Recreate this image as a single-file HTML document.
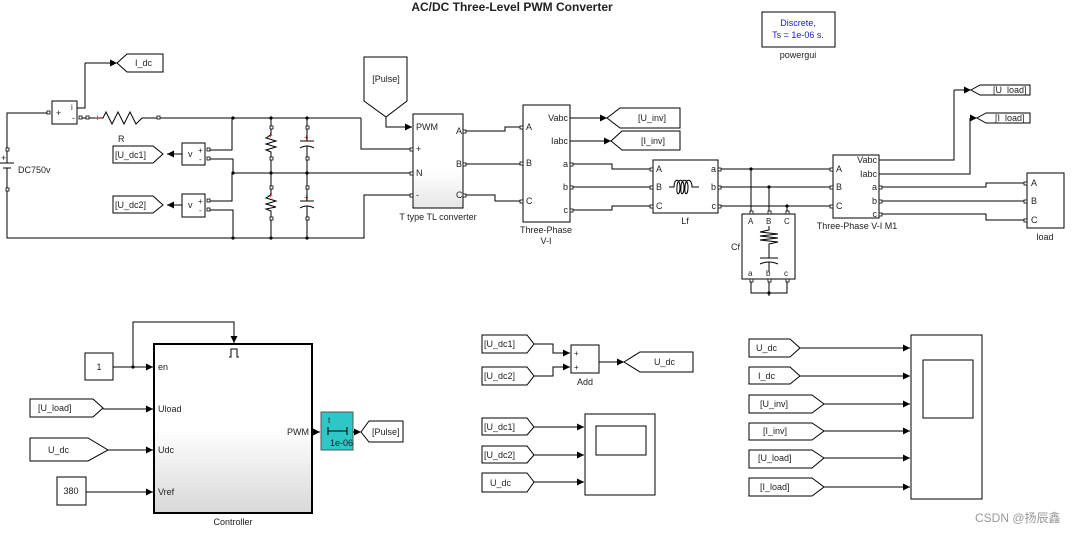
<!DOCTYPE html>
<html><head><meta charset="utf-8"><style>
html,body{margin:0;padding:0;background:#fff;}
svg{display:block;font-family:"Liberation Sans","Noto Sans CJK SC",sans-serif;}
text{font-size:9px;fill:#222;}
</style></head><body>
<svg width="1080" height="535" viewBox="0 0 1080 535" xmlns="http://www.w3.org/2000/svg">
<defs>
<marker id="a" markerUnits="userSpaceOnUse" markerWidth="8" markerHeight="8" refX="7" refY="4" orient="auto"><path d="M0,0.5 L7,4 L0,7.5 Z" fill="#000"/></marker>
<linearGradient id="g" x1="0" y1="0" x2="0" y2="1"><stop offset="0.5" stop-color="#fff"/><stop offset="1" stop-color="#d8d8d8"/></linearGradient>
<linearGradient id="g2" x1="0" y1="0" x2="0" y2="1"><stop offset="0.6" stop-color="#fff"/><stop offset="1" stop-color="#e6e6e6"/></linearGradient>
</defs>
<g stroke="#000" stroke-width="1" fill="none">
<!-- title -->
</g>
<text x="512" y="11" text-anchor="middle" style="font-size:12px;font-weight:bold">AC/DC Three-Level PWM Converter</text>
<!-- powergui -->
<rect x="762" y="12" width="73" height="35" fill="#fff" stroke="#000"/>
<text x="798" y="26" text-anchor="middle" style="fill:#1a1ad0">Discrete,</text>
<text x="798" y="38" text-anchor="middle" style="fill:#1a1ad0">Ts = 1e-06 s.</text>
<text x="798" y="58" text-anchor="middle">powergui</text>

<g stroke="#000" stroke-width="1" fill="none">
<!-- left DC circuit wires -->
<polyline points="49,113 7,113 7,150"/>
<polyline points="7,190 7,238 364,238 364,195 413,195"/>
<line x1="159" y1="118" x2="361" y2="118"/>
<polyline points="361,118 361,149 413,149"/>
<line x1="233" y1="173" x2="413" y2="173"/>
<line x1="80" y1="118" x2="87" y2="118"/>
<!-- battery -->
<line x1="7" y1="150" x2="7" y2="163"/><line x1="0" y1="163" x2="14" y2="163"/>
<line x1="3" y1="168" x2="11" y2="168"/><line x1="7" y1="168" x2="7" y2="190"/>
<!-- resistor R -->
<polyline points="87,118 103,118 106,112 112,124 118,112 124,124 130,112 136,124 142,118 159,118"/>
<!-- current meter -->
<rect x="52" y="101" width="25" height="23" fill="#fff"/>
<polyline points="77,108 85,108 85,63" />
<line x1="85" y1="63" x2="117" y2="63" marker-end="url(#a)"/>
<polygon points="117,63 127,54 163,54 163,72 127,72" fill="#fff"/>
<!-- voltage meters -->
<rect x="182" y="143" width="23" height="22" fill="#fff"/>
<polyline points="209,150 232,150 232,118"/>
<polyline points="209,159 233,159 233,173"/>
<line x1="182" y1="154" x2="167" y2="154" marker-end="url(#a)"/>
<polygon points="113,146 153,146 163,154 153,163 113,163" fill="#fff"/>
<rect x="182" y="194" width="23" height="23" fill="#fff"/>
<polyline points="209,201 232,201 232,173"/>
<polyline points="209,210 233,210 233,238"/>
<line x1="182" y1="205" x2="167" y2="205" marker-end="url(#a)"/>
<polygon points="113,196 153,196 163,205 153,213 113,213" fill="#fff"/>
<!-- resistors/caps -->
<line x1="271" y1="118" x2="271" y2="135"/>
<polyline points="271,135 266,138 276,141 266,144 276,147 266,150 271,152 271,173"/>
<line x1="271" y1="173" x2="271" y2="195"/>
<polyline points="271,195 266,198 276,201 266,204 276,207 266,209 271,211 271,238"/>
<line x1="307" y1="118" x2="307" y2="141"/><line x1="300" y1="141" x2="314" y2="141"/>
<path d="M300,148 Q307,144 314,148"/><line x1="307" y1="146" x2="307" y2="173"/>
<line x1="307" y1="173" x2="307" y2="201"/><line x1="300" y1="201" x2="314" y2="201"/>
<path d="M300,208 Q307,204 314,208"/><line x1="307" y1="206" x2="307" y2="238"/>
<!-- Pulse from -->
<polygon points="364,57 407,57 407,101 386,117 364,101" fill="#fff"/>
<polyline points="386,117 386,127 412,127" marker-end="url(#a)"/>
<!-- converter -->
<rect x="413" y="114" width="50" height="94" fill="url(#g2)"/>
<polyline points="466,131 505,131 505,127 523,127"/>
<line x1="466" y1="164" x2="523" y2="164"/>
<polyline points="466,195 495,195 495,201 523,201"/>
<!-- V-I -->
<rect x="523" y="105" width="47" height="117" fill="#fff"/>
<line x1="570" y1="118" x2="607" y2="118" marker-end="url(#a)"/>
<polygon points="607,118 620,108 680,108 680,128 620,128" fill="#fff"/>
<line x1="570" y1="141" x2="611" y2="141" marker-end="url(#a)"/>
<polygon points="611,141 622,131 680,131 680,150 622,150" fill="#fff"/>
<polyline points="573,164 612,164 612,169 653,169"/>
<line x1="573" y1="187" x2="653" y2="187"/>
<polyline points="573,210 612,210 612,206 653,206"/>
<!-- Lf -->
<rect x="653" y="160" width="65" height="53" fill="#fff"/>
<path d="M669,187 L674,187 C674,178 680,178 680,187 C680,196 676,196 677,187 C677,178 684,178 684,187 C684,196 680,196 681,187 C681,178 688,178 688,187 C688,196 684,196 685,187 C685,178 692,178 692,187 L699,187"/>
<line x1="721" y1="169" x2="833" y2="169"/>
<line x1="721" y1="187" x2="833" y2="187"/>
<line x1="721" y1="206" x2="833" y2="206"/>
<line x1="751" y1="169" x2="751" y2="214"/>
<line x1="769" y1="187" x2="769" y2="214"/>
<line x1="787" y1="206" x2="787" y2="214"/>
<!-- Cf -->
<rect x="742" y="214" width="53" height="65" fill="#fff"/>
<polyline points="769,226 769,230 760,232 778,234 760,236 778,238 760,240 778,242 769,244 769,258"/>
<line x1="760" y1="258" x2="778" y2="258"/><path d="M760,264 Q769,260 778,264"/><line x1="769" y1="262" x2="769" y2="272"/>
<polyline points="751,279 751,293 787,293 787,279"/><line x1="769" y1="279" x2="769" y2="296"/>
<!-- V-I M1 -->
<rect x="833" y="155" width="46" height="63" fill="#fff"/>
<polyline points="879,160 954,160 954,90"/>
<line x1="954" y1="90" x2="971" y2="90" marker-end="url(#a)"/>
<polygon points="971,90 980,85 1030,85 1030,95 980,95" fill="#fff"/>
<polyline points="879,174 970,174 970,118"/>
<line x1="970" y1="118" x2="977" y2="118" marker-end="url(#a)"/>
<polygon points="977,118 986,113 1030,113 1030,123 986,123" fill="#fff"/>
<polyline points="882,187 986,187 986,183 1027,183"/>
<line x1="882" y1="201" x2="1027" y2="201"/>
<polyline points="882,214 986,214 986,220 1027,220"/>
<rect x="1027" y="173" width="37" height="55" fill="#fff"/>

<!-- Controller -->
<rect x="154" y="344" width="158" height="169" fill="url(#g)" stroke-width="2"/>
<rect x="85" y="353" width="28" height="27" fill="#fff"/>
<line x1="113" y1="367" x2="153" y2="367" marker-end="url(#a)"/>
<polyline points="133,367 133,322 234,322 234,343" marker-end="url(#a)"/>
<polyline points="229,357 231,357 231,349 237,349 237,357 239,357"/>
<polygon points="30,399 93,399 103,408 93,417 30,417" fill="#fff"/>
<line x1="103" y1="409" x2="153" y2="409" marker-end="url(#a)"/>
<polygon points="30,438 88,438 108,450 88,461 30,461" fill="#fff"/>
<line x1="108" y1="450" x2="153" y2="450" marker-end="url(#a)"/>
<rect x="57" y="477" width="29" height="28" fill="#fff"/>
<line x1="86" y1="492" x2="153" y2="492" marker-end="url(#a)"/>
<line x1="312" y1="432" x2="320" y2="432" marker-end="url(#a)"/>
<rect x="321" y="412" width="32" height="38" fill="#2ec6c6" stroke="#555"/>
<line x1="328" y1="431" x2="347" y2="431"/><line x1="328" y1="427" x2="328" y2="435"/><line x1="347" y1="427" x2="347" y2="435"/>
<line x1="353" y1="432" x2="361" y2="432" marker-end="url(#a)"/>
<polygon points="361,432 369,421 403,421 403,442 369,442" fill="#fff"/>

<!-- Add -->
<polygon points="482,335 527,335 534,344 527,353 482,353" fill="#fff"/>
<polygon points="482,367 527,367 534,376 527,385 482,385" fill="#fff"/>
<polyline points="534,344 553,344 553,353 570,353" marker-end="url(#a)"/>
<polyline points="534,376 553,376 553,367 570,367" marker-end="url(#a)"/>
<rect x="571" y="345" width="28" height="28" fill="#fff"/>
<line x1="599" y1="362" x2="624" y2="362" marker-end="url(#a)"/>
<polygon points="624,362 640,352 693,352 693,372 640,372" fill="#fff"/>
<!-- scope1 -->
<polygon points="482,418 527,418 534,427 527,435 482,435" fill="#fff"/>
<polygon points="482,446 527,446 534,455 527,463 482,463" fill="#fff"/>
<polygon points="482,473 527,473 534,482 527,492 482,492" fill="#fff"/>
<line x1="534" y1="427" x2="584" y2="427" marker-end="url(#a)"/>
<line x1="534" y1="455" x2="584" y2="455" marker-end="url(#a)"/>
<line x1="534" y1="482" x2="584" y2="482" marker-end="url(#a)"/>
<rect x="585" y="414" width="70" height="81" fill="#fff"/>
<rect x="596" y="426" width="50" height="29" fill="#fff"/>
<!-- scope2 -->
<polygon points="749,339 790,339 800,348 790,357 749,357" fill="#fff"/>
<polygon points="749,367 790,367 800,376 790,384 749,384" fill="#fff"/>
<polygon points="749,395 812,395 824,404 812,413 749,413" fill="#fff"/>
<polygon points="749,423 812,423 824,431 812,440 749,440" fill="#fff"/>
<polygon points="749,450 812,450 824,458 812,468 749,468" fill="#fff"/>
<polygon points="749,478 812,478 824,487 812,496 749,496" fill="#fff"/>
<line x1="800" y1="348" x2="910" y2="348" marker-end="url(#a)"/>
<line x1="800" y1="376" x2="910" y2="376" marker-end="url(#a)"/>
<line x1="824" y1="404" x2="910" y2="404" marker-end="url(#a)"/>
<line x1="824" y1="431" x2="910" y2="431" marker-end="url(#a)"/>
<line x1="824" y1="458" x2="910" y2="458" marker-end="url(#a)"/>
<line x1="824" y1="487" x2="910" y2="487" marker-end="url(#a)"/>
<rect x="911" y="335" width="71" height="164" fill="#fff"/>
<rect x="923" y="360" width="50" height="58" fill="#fff"/>
</g>
<!-- arrow into I_dc etc already; junction dots -->
<g fill="#000">
<circle cx="233" cy="118" r="1.6"/><circle cx="271" cy="118" r="1.6"/><circle cx="307" cy="118" r="1.6"/>
<circle cx="233" cy="173" r="1.6"/><circle cx="271" cy="173" r="1.6"/><circle cx="307" cy="173" r="1.6"/>
<circle cx="233" cy="238" r="1.6"/><circle cx="271" cy="238" r="1.6"/><circle cx="307" cy="238" r="1.6"/>
<circle cx="751" cy="169" r="1.6"/><circle cx="769" cy="187" r="1.6"/><circle cx="787" cy="206" r="1.6"/>
<circle cx="769" cy="293" r="1.6"/><circle cx="133" cy="367" r="1.6"/>
</g>
<g fill="#fff" stroke="#000" stroke-width="0.8">
<rect x="47" y="111" width="3" height="3"/><rect x="79" y="116" width="3" height="3"/><rect x="86" y="116" width="3" height="3"/><rect x="157" y="116" width="3" height="3"/>
<rect x="6" y="148" width="3" height="3"/><rect x="6" y="188" width="3" height="3"/>
<rect x="207" y="148" width="3" height="3"/><rect x="207" y="157" width="3" height="3"/>
<rect x="207" y="199" width="3" height="3"/><rect x="207" y="208" width="3" height="3"/>
<rect x="270" y="126" width="3" height="3"/><rect x="270" y="157" width="3" height="3"/><rect x="270" y="186" width="3" height="3"/><rect x="270" y="217" width="3" height="3"/>
<rect x="306" y="126" width="3" height="3"/><rect x="306" y="157" width="3" height="3"/><rect x="306" y="186" width="3" height="3"/><rect x="306" y="217" width="3" height="3"/>
<rect x="410" y="148" width="3" height="3"/><rect x="410" y="172" width="3" height="3"/><rect x="410" y="194" width="3" height="3"/>
<rect x="463" y="130" width="3" height="3"/><rect x="463" y="163" width="3" height="3"/><rect x="463" y="194" width="3" height="3"/>
<rect x="520" y="126" width="3" height="3"/><rect x="520" y="162" width="3" height="3"/><rect x="520" y="200" width="3" height="3"/>
<rect x="570" y="163" width="3" height="3"/><rect x="570" y="186" width="3" height="3"/><rect x="570" y="209" width="3" height="3"/>
<rect x="650" y="168" width="3" height="3"/><rect x="650" y="186" width="3" height="3"/><rect x="650" y="205" width="3" height="3"/>
<rect x="718" y="168" width="3" height="3"/><rect x="718" y="186" width="3" height="3"/><rect x="718" y="205" width="3" height="3"/>
<rect x="830" y="168" width="3" height="3"/><rect x="830" y="186" width="3" height="3"/><rect x="830" y="205" width="3" height="3"/>
<rect x="879" y="186" width="3" height="3"/><rect x="879" y="200" width="3" height="3"/><rect x="879" y="213" width="3" height="3"/>
<rect x="1024" y="182" width="3" height="3"/><rect x="1024" y="200" width="3" height="3"/><rect x="1024" y="219" width="3" height="3"/>
<rect x="750" y="211" width="3" height="3"/><rect x="768" y="211" width="3" height="3"/><rect x="786" y="211" width="3" height="3"/>
<rect x="750" y="279" width="3" height="3"/><rect x="768" y="279" width="3" height="3"/><rect x="786" y="279" width="3" height="3"/>
</g>
<g style="fill:#d00" >
<text x="95" y="121" style="fill:#d00;font-size:9px">+</text>
<text x="268" y="138" style="fill:#d00;font-size:8px">+</text><text x="268" y="198" style="fill:#d00;font-size:8px">+</text>
<text x="304" y="140" style="fill:#d00;font-size:8px">+</text><text x="304" y="200" style="fill:#d00;font-size:8px">+</text>
</g>
<text x="56" y="116">+</text><text x="71" y="110" style="font-size:8px">i</text><text x="72" y="121">-</text>
<text x="1" y="161">+</text><text x="18" y="173">DC750v</text>
<text x="118" y="142">R</text>
<text x="135" y="66">I_dc</text>
<text x="188" y="157">v</text><text x="198" y="153" style="font-size:8px">+</text><text x="199" y="162" style="font-size:8px">-</text>
<text x="188" y="208">v</text><text x="198" y="204" style="font-size:8px">+</text><text x="199" y="213" style="font-size:8px">-</text>
<text x="115" y="158">[U_dc1]</text><text x="115" y="208">[U_dc2]</text>
<text x="386" y="82" text-anchor="middle">[Pulse]</text>
<text x="416" y="130">PWM</text><text x="416" y="152">+</text><text x="416" y="176">N</text><text x="416" y="198">-</text>
<text x="456" y="134">A</text><text x="456" y="167">B</text><text x="456" y="198">C</text>
<text x="438" y="220" text-anchor="middle">T type TL converter</text>
<text x="526" y="130">A</text><text x="526" y="166">B</text><text x="526" y="204">C</text>
<text x="568" y="121" text-anchor="end">Vabc</text><text x="568" y="144" text-anchor="end">Iabc</text>
<text x="568" y="167" text-anchor="end">a</text><text x="568" y="190" text-anchor="end">b</text><text x="568" y="213" text-anchor="end">c</text>
<text x="546" y="233" text-anchor="middle">Three-Phase</text><text x="546" y="244" text-anchor="middle">V-I</text>
<text x="638" y="121">[U_inv]</text><text x="641" y="144">[I_inv]</text>
<text x="656" y="172">A</text><text x="656" y="190">B</text><text x="656" y="209">C</text>
<text x="716" y="172" text-anchor="end">a</text><text x="716" y="190" text-anchor="end">b</text><text x="716" y="209" text-anchor="end">c</text>
<text x="685" y="224" text-anchor="middle">Lf</text>
<text x="731" y="250">Cf</text>
<text x="748" y="224" style="font-size:8px">A</text><text x="766" y="224" style="font-size:8px">B</text><text x="784" y="224" style="font-size:8px">C</text>
<text x="748" y="276" style="font-size:8px">a</text><text x="766" y="276" style="font-size:8px">b</text><text x="784" y="276" style="font-size:8px">c</text>
<text x="836" y="172">A</text><text x="836" y="190">B</text><text x="836" y="209">C</text>
<text x="877" y="163" text-anchor="end">Vabc</text><text x="877" y="177" text-anchor="end">Iabc</text>
<text x="877" y="190" text-anchor="end">a</text><text x="877" y="204" text-anchor="end">b</text><text x="877" y="217" text-anchor="end">c</text>
<text x="857" y="229" text-anchor="middle">Three-Phase V-I M1</text>
<text x="993" y="93">[U_load]</text><text x="995" y="121">[I_load]</text>
<text x="1031" y="186">A</text><text x="1031" y="204">B</text><text x="1031" y="223">C</text>
<text x="1045" y="240" text-anchor="middle">load</text>
<!-- bottom -->
<text x="99" y="370" text-anchor="middle">1</text>
<text x="158" y="370">en</text><text x="158" y="412">Uload</text><text x="158" y="453">Udc</text><text x="158" y="495">Vref</text>
<text x="309" y="435" text-anchor="end">PWM</text>
<text x="233" y="525" text-anchor="middle">Controller</text>
<text x="38" y="411">[U_load]</text><text x="48" y="453">U_dc</text><text x="71" y="494" text-anchor="middle">380</text>
<text x="328" y="423" style="font-size:8px">t</text><text x="330" y="446" style="font-size:9px">1e-06</text>
<text x="372" y="435">[Pulse]</text>
<text x="484" y="347">[U_dc1]</text><text x="484" y="379">[U_dc2]</text>
<text x="574" y="356" style="font-size:8px">+</text><text x="574" y="370" style="font-size:8px">+</text>
<text x="585" y="385" text-anchor="middle">Add</text>
<text x="654" y="365">U_dc</text>
<text x="484" y="430">[U_dc1]</text><text x="484" y="458">[U_dc2]</text><text x="490" y="486">U_dc</text>
<text x="756" y="351">U_dc</text><text x="758" y="379">I_dc</text><text x="760" y="407">[U_inv]</text>
<text x="763" y="434">[I_inv]</text><text x="758" y="461">[U_load]</text><text x="760" y="490">[I_load]</text>
<text x="975" y="522" style="font-size:12px;fill:#999">CSDN @扬辰鑫</text>
</svg>
</body></html>
